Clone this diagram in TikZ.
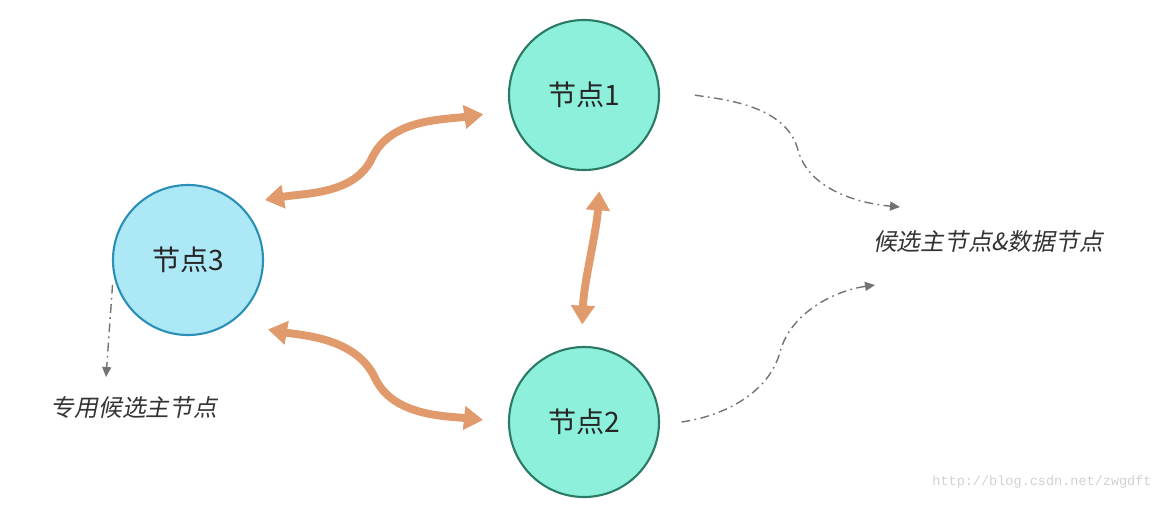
\documentclass[tikz,border=0pt]{standalone}
\usepackage{fontspec}
\newfontfamily\cjk{Noto Sans CJK SC}
\newfontfamily\cjkslant[FakeSlant=0.2]{Noto Sans CJK SC}
\setmonofont{Liberation Mono}
\usetikzlibrary{arrows.meta}
\definecolor{mint}{HTML}{8CF0DB}
\definecolor{mintline}{HTML}{2B7A66}
\definecolor{sky}{HTML}{ADE8F7}
\definecolor{skyline}{HTML}{2A90B5}
\definecolor{peach}{HTML}{E09A6C}

\begin{document}
\begin{tikzpicture}[>=Stealth,
  ep/.style={circle,line width=1.2pt,minimum size=3cm,inner sep=0pt,outer sep=.45cm,
    font=\cjk\fontsize{16}{19}\selectfont,text=black!85},
  link/.style={line width=4.5pt,draw=peach,line cap=round,
    {Triangle[length=.38cm,width=.46cm]}-{Triangle[length=.38cm,width=.46cm]}},
  hint/.style={line width=.8pt,draw=black!55,
    dash pattern=on 5pt off 2.5pt on 1pt off 2.5pt,
    -{Triangle[length=.2cm,width=.18cm]}},
  note/.style={font=\cjkslant\fontsize{13.5}{16}\selectfont,text=black!80}]
  \useasboundingbox (0,0) rectangle (23.36,10.12);
  % the three nodes
  \node[ep,fill=mint,draw=mintline] (node1) at (11.68,8.22) {节点1};
  \node[ep,fill=mint,draw=mintline] (node2) at (11.68,1.68) {节点2};
  \node[ep,fill=sky,draw=skyline] (node3) at (3.76,4.92) {节点3};
  % labels
  \node[note] (both) at (19.76,5.28) {候选主节点\&数据节点};
  \node[note] (master) at (2.68,1.96) {专用候选主节点};
  \node[font=\ttfamily\fontsize{7.7}{9}\selectfont,text=black!18] (url) at (20.84,.48) {http://blog.csdn.net/zwgdft};
  % free ends of the hints
  \coordinate (top) at (18.0,5.98);
  \coordinate (low) at (17.5,4.42);
  \coordinate (down) at (2.12,2.58);
  % links between nodes
  \draw[link,shorten >=.1cm] (node3.38) to[out=10,in=245,looseness=.9] (7.44,6.96) to[out=65,in=188,looseness=.9] (node1.191);
  \draw[link,shorten <=.2cm,shorten >=.07cm] (node3.-44) to[out=-10,in=115,looseness=.9] (7.50,2.56) to[out=-65,in=174,looseness=.9] (node2.179);
  \draw[link] (node1.-81) to[out=-94,in=88,looseness=.8] (node2.91);
  % hints
  \draw[hint,shorten <=.27cm] (node1.1) to[out=-8,in=105,looseness=.9] (15.96,7.12) to[out=-75,in=175,looseness=.9] (top);
  \draw[hint] (node2.0) to[out=8,in=255,looseness=.9] (15.6,3.08) to[out=75,in=188,looseness=.9] (low);
  \draw[hint,shorten <=-.68cm] (node3.217) -- (down);
\end{tikzpicture}
\end{document}
